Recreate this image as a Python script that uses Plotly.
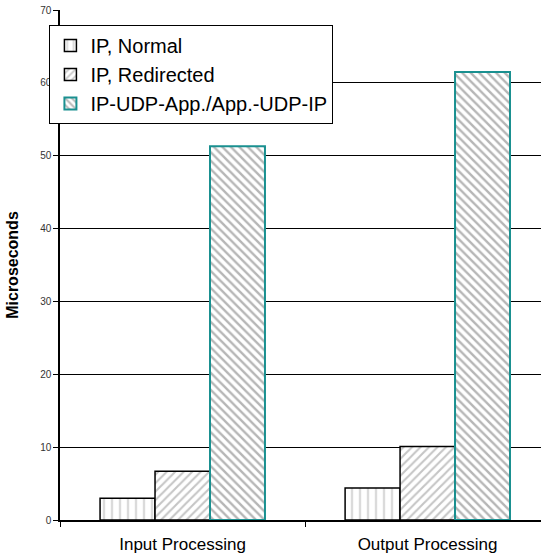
import plotly.graph_objects as go

categories = ["Input Processing", "Output Processing"]
series_names = ["IP, Normal", "IP, Redirected", "IP-UDP-App./App.-UDP-IP"]
ip_normal = [3.0, 4.4]
ip_redirected = [6.7, 10.1]
ip_udp_app = [51.3, 61.5]
y_ticks = [0, 10, 20, 30, 40, 50, 60, 70]

values = [ip_normal, ip_redirected, ip_udp_app]
shapes = ["|", "/", "\\"]
pat_sizes = [8, 6, 6]
solidities = [0.3, 0.35, 0.4]
fg_colors = ["#b8b8b8", "#8c8c8c", "#6e6e6e"]
line_colors = ["#000000", "#000000", "#1a9090"]
line_widths = [1.5, 1.5, 2]

fig = go.Figure()
for name, vals, shp, sz, sol, fg, lc, lw in zip(series_names, values, shapes, pat_sizes,
                                               solidities, fg_colors, line_colors, line_widths):
    fig.add_trace(go.Bar(
        x=categories, y=vals, name=name,
        marker=dict(
            color="white",
            line=dict(color=lc, width=lw),
            pattern=dict(shape=shp, size=sz, solidity=sol, fgcolor=fg, bgcolor="white",
                         fillmode="overlay"),
        ),
    ))

fig.update_layout(
    width=541, height=558,
    margin=dict(l=60, r=0, t=10, b=38),
    paper_bgcolor="white", plot_bgcolor="white",
    barmode="group", bargap=0.327, bargroupgap=0,
    font=dict(family="Liberation Sans, Arial, sans-serif", color="#000"),
    legend=dict(
        x=-0.022, y=0.9706, xanchor="left", yanchor="top",
        bgcolor="white", bordercolor="black", borderwidth=1,
        font=dict(size=20, color="#000"),
        itemwidth=30, tracegroupgap=0,
    ),
    xaxis=dict(
        range=[-0.5, 1.463], showline=True, linecolor="black", linewidth=1.5,
        ticks="outside", tickson="boundaries", ticklen=5, tickcolor="black",
        ticklabelstandoff=8,
        tickfont=dict(size=17, color="#000"), showgrid=False, zeroline=False,
    ),
    yaxis=dict(
        range=[0, 70], tickvals=y_ticks, showline=True, linecolor="black", linewidth=1.5,
        ticks="outside", ticklen=5, tickcolor="black",
        tickfont=dict(size=10, color="#333"),
        showgrid=True, gridcolor="black", gridwidth=1, zeroline=False,
        title=dict(text="<b>Microseconds</b>", font=dict(size=16, color="#000"), standoff=18),
    ),
)

fig.write_html("out.html")
